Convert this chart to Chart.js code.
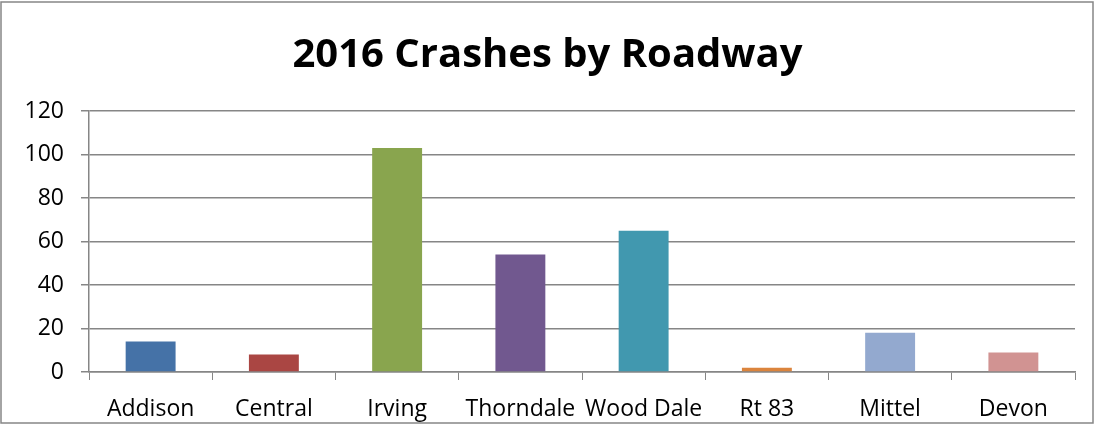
<!DOCTYPE html>
<html><head><meta charset="utf-8">
<script src="https://cdn.jsdelivr.net/npm/chart.js@4/dist/chart.umd.min.js"></script>
<style>html,body{margin:0;padding:0;background:#fff}#wrap{width:1095px;height:425px;position:relative}</style>
</head><body><div id="wrap"><canvas id="c" width="1095" height="425"></canvas></div>
<script>
const categories = ["Addison","Central","Irving","Thorndale","Wood Dale","Rt 83","Mittel","Devon"];
const crashes = [14, 8, 103, 54, 65, 2, 18, 9];
const barColors = ["#4572A7","#AA4643","#89A54E","#71588F","#4198AF","#DB843D","#93A9CF","#D19392"];
const yTicks = [0,20,40,60,80,100,120];
const titleText = "2016 Crashes by Roadway";
const FONT = "'Open Sans', sans-serif";

const borderPlugin = {
  id:'outerBorder',
  afterDraw(chart){
    const c = chart.ctx;
    c.save();
    c.strokeStyle = '#868686';
    c.lineWidth = 1.5;
    c.strokeRect(1, 2, chart.width - 3, chart.height - 4);
    c.restore();
  }
};

new Chart(document.getElementById('c'), {
  type:'bar',
  data:{labels:categories, datasets:[{data:crashes, backgroundColor:barColors, barPercentage:0.405, categoryPercentage:1}]},
  options:{
    responsive:false, animation:false,
    layout:{padding:{left:20,right:20,top:0,bottom:0}},
    plugins:{
      legend:{display:false}, tooltip:{enabled:false},
      title:{display:true, text:titleText, color:'#000', font:{family:FONT, size:40, weight:'bold'}, padding:{top:32, bottom:31}}
    },
    scales:{
      x:{
        grid:{display:true, drawOnChartArea:false, drawTicks:true, tickLength:8, color:'#868686', offset:true},
        border:{color:'#868686', width:1.5},
        ticks:{color:'#000', font:{family:FONT, size:23}, padding:16, maxRotation:0, autoSkip:false},
        afterFit(s){ s.height = 53; }
      },
      y:{
        min:0, max:120,
        afterBuildTicks(s){ s.ticks = yTicks.map(v=>({value:v})); },
        grid:{color:'#868686', lineWidth:1.5, tickLength:8, drawTicks:true},
        border:{color:'#868686', width:1.5},
        ticks:{color:'#000', font:{family:FONT, size:23}, padding:17},
        afterFit(s){ s.width = 69; }
      }
    }
  },
  plugins:[borderPlugin]
});
</script></body></html>
